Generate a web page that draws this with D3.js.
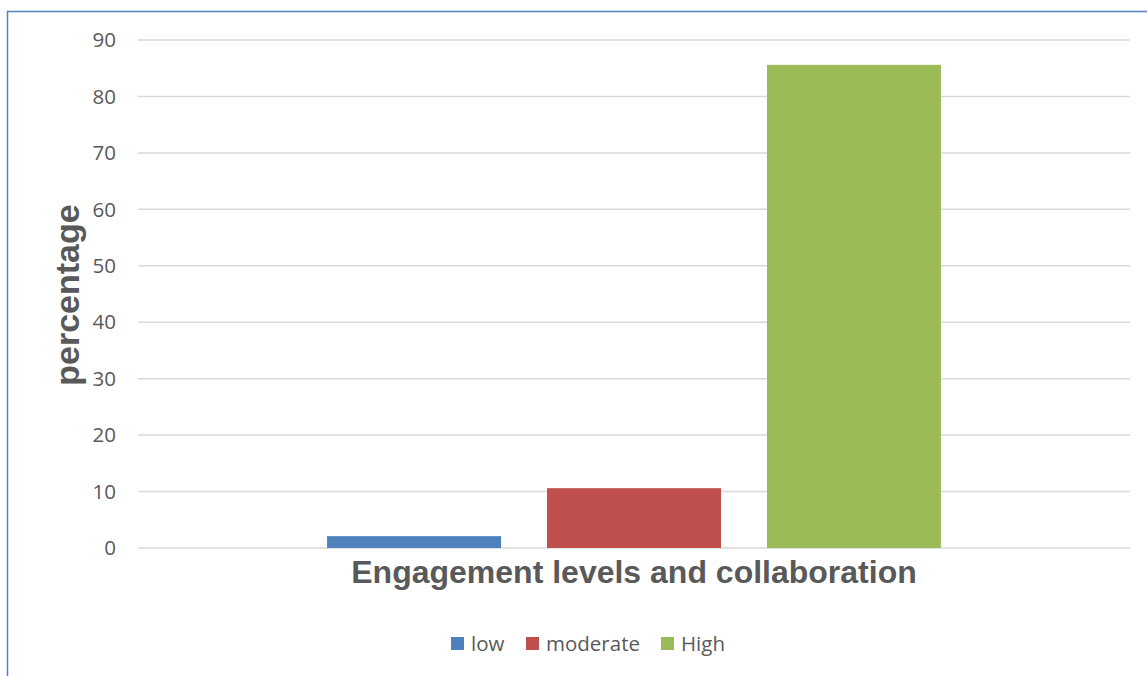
<!DOCTYPE html>
<html>
<head>
<meta charset="utf-8">
<script src="https://cdn.jsdelivr.net/npm/d3@7"></script>
<style>
  html, body { margin: 0; padding: 0; background: #fff; }
  svg { display: block; }
</style>
</head>
<body>
<div id="root"></div>
<script>
const width = 1147;
const height = 676;

// data
const categories = ['Engagement levels and collaboration'];
const seriesNames = ['low', 'moderate', 'High'];
const seriesValues = [2.1, 10.6, 85.6];
const seriesColors = ['#4f81bd', '#c0504d', '#9bbb59'];
const yTicks = [0, 10, 20, 30, 40, 50, 60, 70, 80, 90];

const margin = {top: 40, right: 17, bottom: 128, left: 138};
const textFont = '"Open Sans", Lato, sans-serif';
const titleFont = '"Liberation Sans", Arial, sans-serif';

const svg = d3.select('#root')
    .append('svg')
    .attr('width', width)
    .attr('height', height);

// frame lines (left + top)
svg.append('path')
    .attr('d', `M7.5,${height} V11.5 H${width}`)
    .attr('fill', 'none')
    .attr('stroke', '#4f81bd')
    .attr('stroke-width', 1.5);

const y = d3.scaleLinear()
    .domain([0, 90])
    .range([height - margin.bottom, margin.top]);

const x0 = d3.scaleBand()
    .domain(categories)
    .range([margin.left, width - margin.right])
    .paddingOuter(0.308);

const x1 = d3.scaleBand()
    .domain(seriesNames)
    .range([0, x0.bandwidth()])
    .paddingInner(0.209);

const color = d3.scaleOrdinal(seriesNames, seriesColors);

// gridlines
svg.append('g')
    .selectAll('line')
    .data(yTicks)
    .join('line')
    .attr('x1', margin.left)
    .attr('x2', width - margin.right)
    .attr('y1', d => y(d))
    .attr('y2', d => y(d))
    .attr('stroke', '#d9d9d9')
    .attr('stroke-width', 1.5);

// y tick labels
svg.append('g')
    .selectAll('text')
    .data(yTicks)
    .join('text')
    .attr('x', 116)
    .attr('y', d => y(d))
    .attr('dy', '0.35em')
    .attr('text-anchor', 'end')
    .attr('font-family', textFont)
    .attr('font-size', 20.5)
    .attr('fill', '#595959')
    .text(d => d);

// bars
const group = svg.append('g')
    .selectAll('g')
    .data(categories)
    .join('g')
    .attr('transform', d => `translate(${x0(d)},0)`);

group.selectAll('rect')
    .data(seriesNames.map((name, i) => ({name, value: seriesValues[i]})))
    .join('rect')
    .attr('x', d => x1(d.name))
    .attr('width', x1.bandwidth())
    .attr('y', d => y(d.value))
    .attr('height', d => y(0) - y(d.value))
    .attr('fill', d => color(d.name));

// axis titles
svg.append('text')
    .attr('x', x0(categories[0]) + x0.bandwidth() / 2)
    .attr('y', 583)
    .attr('text-anchor', 'middle')
    .attr('font-family', titleFont)
    .attr('font-weight', 'bold')
    .attr('font-size', 32)
    .attr('fill', '#595959')
    .text(categories[0]);

svg.append('text')
    .attr('transform', `translate(79,${(y(0) + y(90)) / 2 + 1}) rotate(-90)`)
    .attr('text-anchor', 'middle')
    .attr('font-family', titleFont)
    .attr('font-weight', 'bold')
    .attr('font-size', 34)
    .attr('fill', '#595959')
    .text('percentage');

// legend
const legendX = [451, 526, 661];
const legend = svg.append('g')
    .selectAll('g')
    .data(seriesNames)
    .join('g')
    .attr('transform', (d, i) => `translate(${legendX[i]},637)`);

legend.append('rect')
    .attr('width', 13)
    .attr('height', 13)
    .attr('fill', d => color(d));

legend.append('text')
    .attr('x', 20)
    .attr('y', 7)
    .attr('dy', '0.35em')
    .attr('font-family', textFont)
    .attr('font-size', 20.5)
    .attr('fill', '#595959')
    .text(d => d);
</script>
</body>
</html>
